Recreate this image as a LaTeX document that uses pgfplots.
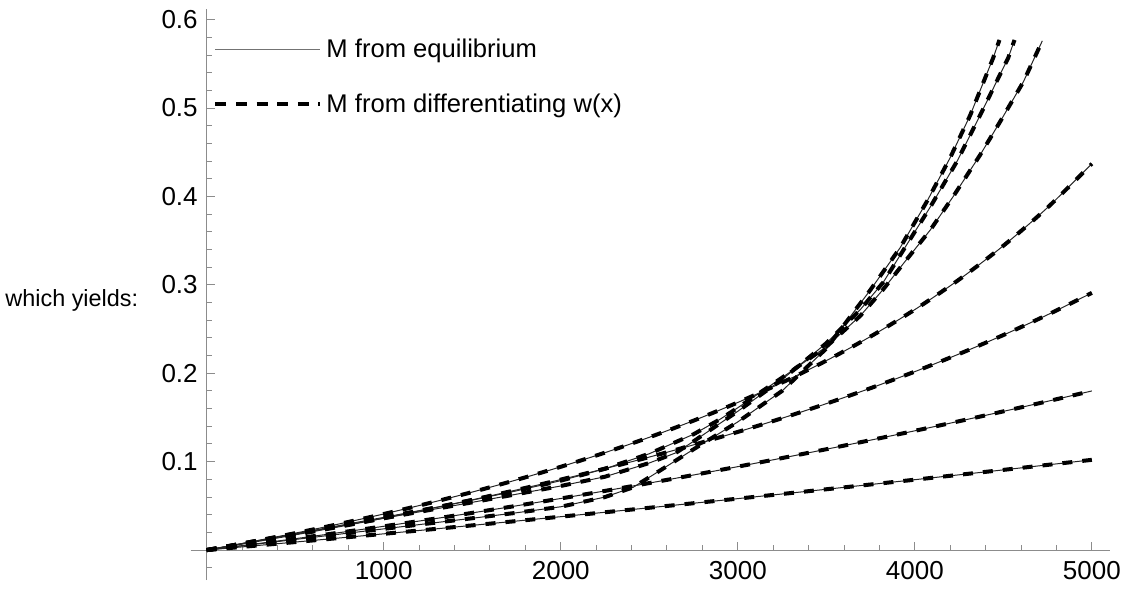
\documentclass[border=0pt]{standalone}
\usepackage{fontspec}
\setmainfont{Liberation Sans}
\usepackage{pgfplots}
\usepackage{pgfplotstable}
\pgfplotsset{compat=1.18}

\pgfplotstableread{
x y
0 0
250 0.00450
500 0.00906
750 0.01369
1000 0.01838
1250 0.02313
1500 0.02795
1750 0.03283
2000 0.03778
2250 0.04278
2500 0.04786
2750 0.05299
3000 0.05819
3250 0.06345
3500 0.06878
3750 0.07417
4000 0.07962
4250 0.08514
4500 0.09072
4750 0.09637
5000 0.10208
}\curveA

\pgfplotstableread{
x y
0 0
250 0.00630
500 0.01289
750 0.01976
1000 0.02691
1250 0.03435
1500 0.04207
1750 0.05008
2000 0.05837
2250 0.06694
2500 0.07580
2750 0.08494
3000 0.09437
3250 0.10408
3500 0.11407
3750 0.12435
4000 0.13491
4250 0.14576
4500 0.15689
4750 0.16830
5000 0.18000
}\curveB

\pgfplotstableread{
x y
0 0
250 0.00842
500 0.01723
750 0.02644
1000 0.03609
1250 0.04621
1500 0.05683
1750 0.06800
2000 0.07975
2250 0.09213
2500 0.10520
2750 0.11902
3000 0.13364
3250 0.14915
3500 0.16562
3750 0.18315
4000 0.20185
4250 0.22183
4500 0.24322
4750 0.26620
5000 0.29093
}\curveC

\pgfplotstableread{
x y
0 0
250 0.00928
500 0.01914
750 0.02963
1000 0.04083
1250 0.05280
1500 0.06562
1750 0.07938
2000 0.09421
2250 0.11022
2500 0.12757
2750 0.14641
3000 0.16697
3250 0.18949
3500 0.21425
3750 0.24162
4000 0.27203
4250 0.30601
4500 0.34423
4750 0.38751
5000 0.43699
}\curveD

\pgfplotstableread{
x y
0 0
250 0.0060
500 0.0120
750 0.0180
1000 0.0240
1250 0.0300
1500 0.0360
1750 0.0422
2000 0.0490
2250 0.0600
2409 0.0710
2561 0.0900
2750 0.1140
3000 0.1450
3250 0.1800
3500 0.2280
3748 0.2940
3917 0.3420
4070 0.3950
4200 0.4440
4313 0.4920
4443 0.5570
4478 0.5770
}\curveSa

\pgfplotstableread{
x y
0 0
500 0.0180
1000 0.0360
1500 0.0540
1750 0.0632
2000 0.0725
2250 0.0830
2500 0.0985
2650 0.1100
2750 0.1230
3000 0.1570
3250 0.1930
3500 0.2340
3692 0.2720
3822 0.3030
4087 0.3880
4239 0.4400
4369 0.4920
4528 0.5570
4563 0.5770
}\curveSb

\pgfplotstableread{
x y
0 0
500 0.0185
1000 0.0370
1250 0.0465
1500 0.0565
1750 0.0670
2000 0.0785
2250 0.0920
2500 0.1090
2750 0.1310
2900 0.1480
3000 0.1610
3250 0.1950
3500 0.2300
3692 0.2650
3822 0.2950
3935 0.3240
4087 0.3620
4217 0.4000
4369 0.4470
4483 0.4850
4614 0.5300
4720 0.5760
}\curveSc

\begin{document}
\begin{tikzpicture}
\begin{axis}[
  scale only axis,
  width=459.65pt, height=285.35pt,
  xmin=-90.4, xmax=5103, ymin=-0.0339, ymax=0.6117,
  axis lines=middle,
  axis line style={draw=black!45, line width=0.5pt, -},
  xtick={1000,2000,3000,4000,5000},
  ytick={0.1,0.2,0.3,0.4,0.5,0.6},
  minor xtick={200,400,...,5000},
  minor ytick={-0.02,0,...,0.6},
  tick align=inside,
  major tick length=4pt, minor tick length=2.5pt,
  every tick/.style={draw=black!45, line width=0.5pt},
  ticklabel style={font=\fontsize{13}{15}\selectfont, text=black},
  /pgf/number format/assume math mode=true,
  scaled y ticks=false,
  yticklabel style={/pgf/number format/fixed, /pgf/number format/precision=1, xshift=-1pt},
  xticklabel style={/pgf/number format/1000 sep={}, yshift=-2pt},
  clip=false,
  legend style={at={(0.0243,0.8814)}, anchor=west, draw=none, fill=none,
    inner sep=0pt, font=\fontsize{12.8}{14}\selectfont, row sep=12.5pt},
  legend cell align=left,
  legend image code/.code={\draw[#1] (0pt,0pt) -- (52.5pt,0pt);},
  eq/.style={black!85, line width=0.5pt},
  dif/.style={black, line width=2pt, dash pattern=on 5pt off 5pt},
]
\addlegendimage{black!55, line width=0.5pt}
\addlegendentry{M from equilibrium}
\addlegendimage{black, line width=2pt, dash pattern=on 5.5pt off 4.8pt}
\addlegendentry{M from differentiating w(x)}

\addplot[eq, smooth, forget plot] table {\curveA};
\addplot[eq, smooth, forget plot] table {\curveB};
\addplot[eq, smooth, forget plot] table {\curveC};
\addplot[eq, smooth, forget plot] table {\curveD};
\addplot[eq, forget plot] table {\curveSa};
\addplot[eq, forget plot] table {\curveSb};
\addplot[eq, forget plot] table {\curveSc};

\addplot[dif, smooth, forget plot] table {\curveA};
\addplot[dif, smooth, forget plot] table {\curveB};
\addplot[dif, smooth, forget plot] table {\curveC};
\addplot[dif, smooth, forget plot] table {\curveD};
\addplot[dif, forget plot] table {\curveSa};
\addplot[dif, forget plot] table {\curveSb};
\addplot[dif, forget plot] table {\curveSc};

\coordinate (bl) at (rel axis cs:0,0);
\coordinate (tr) at (rel axis cs:1,1);
\node[anchor=base west, font=\fontsize{11.7}{13}\selectfont, inner sep=0pt] at (axis cs:-1139,0.2753) {which yields:};
\end{axis}
\pgfresetboundingbox
\path[use as bounding box] ([xshift=-95.35pt,yshift=-4pt]bl) rectangle ([xshift=7.95pt,yshift=4.65pt]tr);
\end{tikzpicture}
\end{document}
